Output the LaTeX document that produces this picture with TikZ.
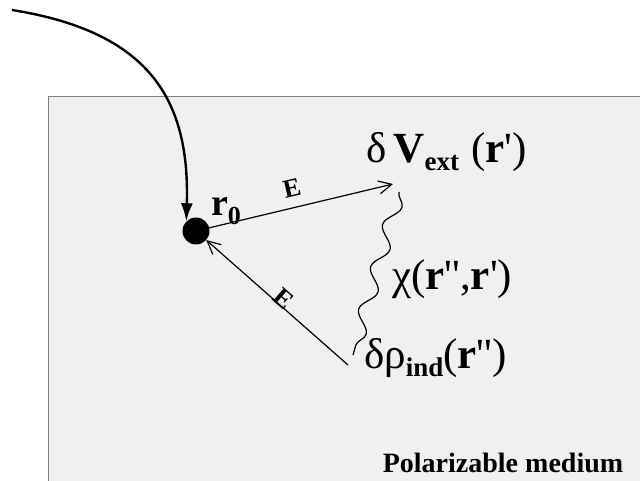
\documentclass[tikz,border=0pt]{standalone}
\usepackage{fontspec}
\setmainfont{Liberation Serif}
\usetikzlibrary{decorations.pathmorphing,arrows.meta}
\newcommand{\pr}{\textquotesingle}
\begin{document}
\begin{tikzpicture}[x=1pt,y=-1pt,
  lbl/.style={inner sep=0pt,font=\fontsize{43}{43}\selectfont},
  elbl/.style={inner sep=0pt,font=\fontsize{26}{26}\selectfont\bfseries},
  field/.style={line width=1.2pt,-{Straight Barb[length=13pt,width=13pt,line width=1.2pt]}}]
\useasboundingbox (0,0) rectangle (640,481);
\fill[white] (0,0) rectangle (640,481);
\draw[fill=black!6,draw=black!50,line width=1pt] (48,97) rectangle (660,500);
\node[circle,fill=black,inner sep=0pt,minimum size=27pt] (r0) at (196,231) {};
\coordinate (start) at (12,10);
\coordinate (vtip) at (393,184);
\coordinate (rhoend) at (348,365);
\coordinate (wtop) at (399,192);
\coordinate (wbot) at (353,355);
\draw[line width=2.4pt,-{Latex[length=18pt,width=12pt]}] (start) .. controls (150,32) and (190,100) .. (r0.north west);
\draw[field] (r0) -- (vtip);
\draw[field] (rhoend) -- (r0);
\draw[line width=1.2pt,decorate,decoration={snake,amplitude=7pt,segment length=44pt}] (wtop) -- (wbot);
\node[inner sep=0pt,font=\fontsize{38}{38}\selectfont\bfseries] (r0l) at (226,211) {r\raisebox{-9pt}{\fontsize{26}{26}\selectfont 0}};
\node[elbl,rotate=13] (e1) at (292,188) {E};
\node[elbl,rotate=-41] (e2) at (284,299) {E};
\node[lbl,anchor=base west] (vext) at (366,163) {δ\,\textbf{V}\raisebox{-8pt}{\fontsize{27}{27}\selectfont\bfseries ext}\hspace{12pt}(\textbf{r}\pr)};
\node[lbl,anchor=base west] (chi) at (392,290) {χ(\textbf{r}\pr\pr,\textbf{r}\pr)};
\node[lbl,anchor=base west] (rho) at (364,368) {δρ\raisebox{-8pt}{\fontsize{27}{27}\selectfont\bfseries ind}(\textbf{r}\pr\pr)};
\node[inner sep=0pt,font=\fontsize{28}{28}\selectfont\bfseries] (pm) at (503,463) {Polarizable medium};
\end{tikzpicture}
\end{document}
